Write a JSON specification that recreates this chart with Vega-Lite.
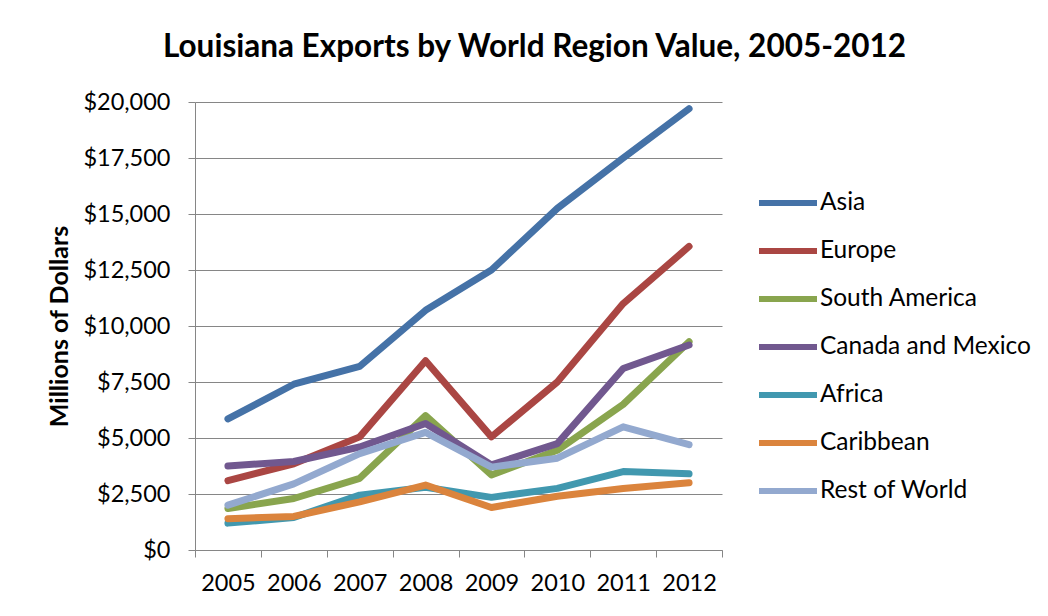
{
  "$schema": "https://vega.github.io/schema/vega-lite/v6.json",
  "autosize": {"type": "none"},
  "width": 527,
  "height": 448,
  "padding": {"left": 195, "top": 102, "right": 326, "bottom": 66},
  "background": "white",
  "title": {
    "text": "Louisiana Exports by World Region Value, 2005-2012",
    "font": "Lato",
    "fontSize": 31.5,
    "fontWeight": "bold",
    "color": "#000000",
    "anchor": "middle",
    "dx": 76,
    "offset": 27
  },
  "data": {
    "values": [
      {"region": "Asia", "year": "2005", "value": 5850},
      {"region": "Asia", "year": "2006", "value": 7400},
      {"region": "Asia", "year": "2007", "value": 8200},
      {"region": "Asia", "year": "2008", "value": 10700},
      {"region": "Asia", "year": "2009", "value": 12500},
      {"region": "Asia", "year": "2010", "value": 15250},
      {"region": "Asia", "year": "2011", "value": 17500},
      {"region": "Asia", "year": "2012", "value": 19700},
      {"region": "Europe", "year": "2005", "value": 3100},
      {"region": "Europe", "year": "2006", "value": 3850},
      {"region": "Europe", "year": "2007", "value": 5050},
      {"region": "Europe", "year": "2008", "value": 8450},
      {"region": "Europe", "year": "2009", "value": 5050},
      {"region": "Europe", "year": "2010", "value": 7500},
      {"region": "Europe", "year": "2011", "value": 11000},
      {"region": "Europe", "year": "2012", "value": 13550},
      {"region": "South America", "year": "2005", "value": 1850},
      {"region": "South America", "year": "2006", "value": 2300},
      {"region": "South America", "year": "2007", "value": 3200},
      {"region": "South America", "year": "2008", "value": 6000},
      {"region": "South America", "year": "2009", "value": 3350},
      {"region": "South America", "year": "2010", "value": 4450},
      {"region": "South America", "year": "2011", "value": 6500},
      {"region": "South America", "year": "2012", "value": 9300},
      {"region": "Canada and Mexico", "year": "2005", "value": 3750},
      {"region": "Canada and Mexico", "year": "2006", "value": 3950},
      {"region": "Canada and Mexico", "year": "2007", "value": 4600},
      {"region": "Canada and Mexico", "year": "2008", "value": 5650},
      {"region": "Canada and Mexico", "year": "2009", "value": 3800},
      {"region": "Canada and Mexico", "year": "2010", "value": 4750},
      {"region": "Canada and Mexico", "year": "2011", "value": 8100},
      {"region": "Canada and Mexico", "year": "2012", "value": 9150},
      {"region": "Africa", "year": "2005", "value": 1200},
      {"region": "Africa", "year": "2006", "value": 1450},
      {"region": "Africa", "year": "2007", "value": 2450},
      {"region": "Africa", "year": "2008", "value": 2800},
      {"region": "Africa", "year": "2009", "value": 2350},
      {"region": "Africa", "year": "2010", "value": 2750},
      {"region": "Africa", "year": "2011", "value": 3500},
      {"region": "Africa", "year": "2012", "value": 3400},
      {"region": "Caribbean", "year": "2005", "value": 1400},
      {"region": "Caribbean", "year": "2006", "value": 1500},
      {"region": "Caribbean", "year": "2007", "value": 2150},
      {"region": "Caribbean", "year": "2008", "value": 2900},
      {"region": "Caribbean", "year": "2009", "value": 1900},
      {"region": "Caribbean", "year": "2010", "value": 2400},
      {"region": "Caribbean", "year": "2011", "value": 2750},
      {"region": "Caribbean", "year": "2012", "value": 3000},
      {"region": "Rest of World", "year": "2005", "value": 2000},
      {"region": "Rest of World", "year": "2006", "value": 2950},
      {"region": "Rest of World", "year": "2007", "value": 4300},
      {"region": "Rest of World", "year": "2008", "value": 5250},
      {"region": "Rest of World", "year": "2009", "value": 3700},
      {"region": "Rest of World", "year": "2010", "value": 4100},
      {"region": "Rest of World", "year": "2011", "value": 5500},
      {"region": "Rest of World", "year": "2012", "value": 4700}
    ]
  },
  "mark": {"type": "line", "strokeWidth": 7, "strokeCap": "round", "strokeJoin": "round"},
  "encoding": {
    "x": {
      "field": "year",
      "type": "ordinal",
      "scale": {"type": "band", "paddingInner": 0, "paddingOuter": 0},
      "axis": {
        "title": null,
        "labelAngle": 0,
        "labelFont": "Lato",
        "labelFontSize": 23.5,
        "labelColor": "#000000",
        "labelPadding": 14,
        "tickBand": "extent",
        "tickSize": 7,
        "tickColor": "#868686",
        "domainColor": "#868686",
        "grid": false
      }
    },
    "y": {
      "field": "value",
      "type": "quantitative",
      "scale": {"domain": [0, 20000], "nice": false},
      "axis": {
        "title": "Millions of Dollars",
        "titleFont": "Lato",
        "titleFontSize": 25,
        "titleFontWeight": "bold",
        "titleColor": "#000000",
        "titlePadding": 10,
        "values": [0, 2500, 5000, 7500, 10000, 12500, 15000, 17500, 20000],
        "format": "$,.0f",
        "labelFont": "Lato",
        "labelFontSize": 23.5,
        "labelColor": "#000000",
        "labelPadding": 18,
        "tickSize": 7,
        "tickColor": "#868686",
        "domainColor": "#868686",
        "gridColor": "#868686",
        "grid": true
      }
    },
    "color": {
      "field": "region",
      "type": "nominal",
      "sort": ["Asia", "Europe", "South America", "Canada and Mexico", "Africa", "Caribbean", "Rest of World"],
      "scale": {
        "domain": ["Asia", "Europe", "South America", "Canada and Mexico", "Africa", "Caribbean", "Rest of World"],
        "range": ["#4572A7", "#AA4643", "#89A54E", "#71588F", "#4198AF", "#DB843D", "#93A9CF"]
      },
      "legend": {
        "title": null,
        "orient": "none",
        "legendX": 561,
        "legendY": 69,
        "symbolType": "stroke",
        "symbolSize": 3364,
        "symbolStrokeWidth": 6,
        "labelFont": "Lato",
        "labelFontSize": 24.5,
        "labelColor": "#000000",
        "labelOffset": 0,
        "labelLimit": 400,
        "rowPadding": 4
      }
    }
  },
  "config": {
    "view": {"stroke": null},
    "axis": {"gridOpacity": 1}
  }
}
